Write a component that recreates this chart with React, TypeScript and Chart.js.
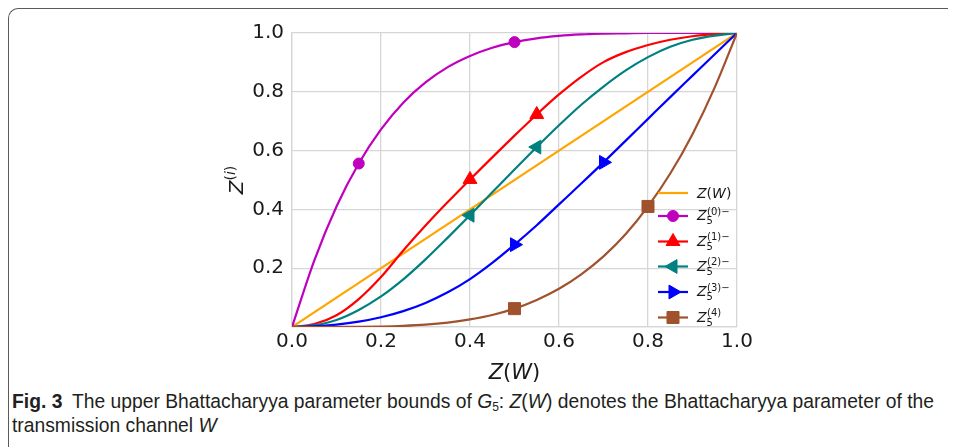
import React, { useEffect, useRef } from 'react';
import { Chart, registerables } from 'chart.js';

Chart.register(...registerables);

// ---- data ----
const zGrid = [0, 0.05, 0.1, 0.15, 0.2, 0.25, 0.3, 0.35, 0.4, 0.45, 0.5, 0.55, 0.6, 0.65, 0.7, 0.75, 0.8, 0.85, 0.9, 0.95, 1];
const diagX = [0, 1];
const diagY = [0, 1];
const z0Values = [0, 0.226, 0.41, 0.556, 0.672, 0.763, 0.832, 0.884, 0.922, 0.95, 0.969, 0.982, 0.99, 0.995, 0.998, 0.999, 1, 1, 1, 1, 1];
const z1Values = [0, 0.01, 0.04, 0.095, 0.17, 0.26, 0.345, 0.425, 0.502, 0.577, 0.651, 0.723, 0.791, 0.851, 0.901, 0.935, 0.959, 0.977, 0.989, 0.996, 1];
const z2Values = [0, 0.006, 0.024, 0.058, 0.104, 0.162, 0.23, 0.304, 0.38, 0.458, 0.536, 0.612, 0.686, 0.756, 0.818, 0.873, 0.918, 0.953, 0.977, 0.991, 1];
const z3Values = [0, 0.002, 0.008, 0.018, 0.033, 0.054, 0.082, 0.118, 0.163, 0.218, 0.28, 0.346, 0.417, 0.488, 0.56, 0.634, 0.708, 0.782, 0.855, 0.928, 1];
const z4Values = [0, 0, 0.0001, 0.0005, 0.0016, 0.004, 0.008, 0.015, 0.026, 0.041, 0.0625, 0.092, 0.13, 0.179, 0.24, 0.316, 0.41, 0.522, 0.656, 0.815, 1];
const z0Markers = [0.15, 0.5];
const z1Markers = [0.4, 0.55];
const z2Markers = [0.4, 0.55];
const z3Markers = [0.5, 0.7];
const z4Markers = [0.5, 0.8];
const xTickLabels = ['0.0', '0.2', '0.4', '0.6', '0.8', '1.0'];
const yTickLabels = ['', '0.2', '0.4', '0.6', '0.8', '1.0'];
const legendSup = ['(0)\u2212', '(1)\u2212', '(2)\u2212', '(3)\u2212', '(4)'];

const COLORS = {
  orange: '#FFA500',
  purple: '#BF00BF',
  red: '#FF0000',
  teal: '#008080',
  blue: '#0000FF',
  brown: '#A0522D',
};

const FONT = '"DejaVu Sans", sans-serif';
const GRID = '#d6d6d6';

type MarkerSpec = { style: string; r: number; rot: number };
const MK: MarkerSpec[] = [
  { style: 'circle', r: 5.5, rot: 0 },
  { style: 'triangle', r: 8, rot: 0 },
  { style: 'triangle', r: 8, rot: -90 },
  { style: 'triangle', r: 8, rot: 90 },
  { style: 'rect', r: 8.5, rot: 0 },
];

function pts(xs: number[], ys: number[]) {
  return xs.map((x, i) => ({ x, y: ys[i] }));
}

function drawMarker(ctx: CanvasRenderingContext2D, m: MarkerSpec, x: number, y: number, color: string) {
  ctx.save();
  ctx.fillStyle = color;
  ctx.strokeStyle = color;
  ctx.lineWidth = 1;
  ctx.beginPath();
  if (m.style === 'circle') {
    ctx.arc(x, y, m.r, 0, Math.PI * 2);
  } else if (m.style === 'triangle') {
    let rad = (m.rot * Math.PI) / 180;
    for (let k = 0; k < 3; k++) {
      const px = x + Math.sin(rad) * m.r;
      const py = y - Math.cos(rad) * m.r;
      if (k === 0) ctx.moveTo(px, py);
      else ctx.lineTo(px, py);
      rad += (2 * Math.PI) / 3;
    }
    ctx.closePath();
  } else {
    const s = Math.SQRT1_2 * m.r;
    ctx.rect(x - s, y - s, 2 * s, 2 * s);
  }
  ctx.fill();
  ctx.stroke();
  ctx.restore();
}

type Seg = { t: string; f: string; dy?: number };
function segWidth(ctx: CanvasRenderingContext2D, segs: Seg[]) {
  let w = 0;
  for (const s of segs) {
    ctx.font = s.f;
    w += ctx.measureText(s.t).width;
  }
  return w;
}
function drawSegs(ctx: CanvasRenderingContext2D, x: number, y: number, segs: Seg[]) {
  let cx = x;
  for (const s of segs) {
    ctx.font = s.f;
    ctx.fillText(s.t, cx, y + (s.dy || 0));
    cx += ctx.measureText(s.t).width;
  }
  return cx;
}

const overlayPlugin = {
  id: 'overlayText',
  afterDraw(chart: any) {
    const ctx: CanvasRenderingContext2D = chart.ctx;
    const area = chart.chartArea;
    ctx.save();
    ctx.textBaseline = 'alphabetic';
    ctx.textAlign = 'left';
    ctx.fillStyle = '#1a1a1a';

    // x-axis title: Z(W)
    const xs: Seg[] = [
      { t: 'Z', f: `italic 21px ${FONT}` },
      { t: '(', f: `21px ${FONT}` },
      { t: 'W', f: `italic 21px ${FONT}` },
      { t: ')', f: `21px ${FONT}` },
    ];
    const xw = segWidth(ctx, xs);
    drawSegs(ctx, (area.left + area.right) / 2 - xw / 2, area.bottom + 52, xs);

    // y-axis title: Z^(i)
    const ys: Seg[] = [
      { t: 'Z', f: `italic 20px ${FONT}` },
      { t: '(', f: `14px ${FONT}`, dy: -8.5 },
      { t: 'i', f: `italic 14px ${FONT}`, dy: -8.5 },
      { t: ')', f: `14px ${FONT}`, dy: -8.5 },
    ];
    const yw = segWidth(ctx, ys);
    ctx.save();
    ctx.translate(area.left - 49, (area.top + area.bottom) / 2 + yw / 2);
    ctx.rotate(-Math.PI / 2);
    drawSegs(ctx, 0, 0, ys);
    ctx.restore();

    // legend
    const lx0 = area.right - 79;
    const lx1 = lx0 + 30;
    const tx = lx1 + 9;
    const rowsY = [area.bottom - 134, area.bottom - 111, area.bottom - 85.5, area.bottom - 60.5, area.bottom - 35, area.bottom - 9.5];
    const colors = [COLORS.orange, COLORS.purple, COLORS.red, COLORS.teal, COLORS.blue, COLORS.brown];
    for (let i = 0; i < 6; i++) {
      const y = rowsY[i];
      ctx.save();
      ctx.strokeStyle = colors[i];
      ctx.lineWidth = 2.2;
      ctx.beginPath();
      ctx.moveTo(lx0, y);
      ctx.lineTo(lx1, y);
      ctx.stroke();
      ctx.restore();
      if (i > 0) drawMarker(ctx, MK[i - 1], (lx0 + lx1) / 2, y, colors[i]);
      ctx.fillStyle = '#1a1a1a';
      if (i === 0) {
        drawSegs(ctx, tx, y + 5, [
          { t: 'Z', f: `italic 14px ${FONT}` },
          { t: '(', f: `14px ${FONT}` },
          { t: 'W', f: `italic 14px ${FONT}` },
          { t: ')', f: `14px ${FONT}` },
        ]);
      } else {
        const ax = drawSegs(ctx, tx, y + 4, [{ t: 'Z', f: `italic 14px ${FONT}` }]);
        drawSegs(ctx, ax, y + 8, [{ t: '5', f: `10px ${FONT}` }]);
        drawSegs(ctx, ax + 0.5, y - 1.5, [{ t: legendSup[i - 1], f: `10px ${FONT}` }]);
      }
    }
    ctx.restore();
  },
};

function markerRadius(markers: number[], r: number) {
  return (c: any) => (c.raw && markers.some((m) => Math.abs(m - c.raw.x) < 1e-9) ? r : 0);
}

export default function App() {
  const ref = useRef<HTMLCanvasElement | null>(null);

  useEffect(() => {
    if (!ref.current) return;
    const series = [
      { vals: z0Values, markers: z0Markers, color: COLORS.purple, mk: MK[0] },
      { vals: z1Values, markers: z1Markers, color: COLORS.red, mk: MK[1] },
      { vals: z2Values, markers: z2Markers, color: COLORS.teal, mk: MK[2] },
      { vals: z3Values, markers: z3Markers, color: COLORS.blue, mk: MK[3] },
      { vals: z4Values, markers: z4Markers, color: COLORS.brown, mk: MK[4] },
    ];
    const datasets: any[] = [
      {
        label: 'Z(W)',
        data: pts(diagX, diagY),
        borderColor: COLORS.orange,
        backgroundColor: COLORS.orange,
        borderWidth: 2.2,
        pointRadius: 0,
        order: 6,
      },
      ...series.map((s, i) => ({
        label: 'Z5(' + i + ')',
        data: pts(zGrid, s.vals),
        borderColor: s.color,
        backgroundColor: s.color,
        borderWidth: 2.2,
        cubicInterpolationMode: 'monotone',
        pointStyle: s.mk.style,
        pointRotation: s.mk.rot,
        pointRadius: markerRadius(s.markers, s.mk.r),
        pointBorderWidth: 1,
        pointBorderColor: s.color,
        pointBackgroundColor: s.color,
        order: 5 - i,
      })),
    ];

    const chart = new Chart(ref.current, {
      type: 'line',
      data: { datasets },
      plugins: [overlayPlugin],
      options: {
        animation: false,
        responsive: false,
        devicePixelRatio: 1,
        events: [],
        layout: { padding: { left: 0, right: 23, top: 13, bottom: 23 } },
        plugins: { legend: { display: false }, tooltip: { enabled: false } },
        scales: {
          x: {
            type: 'linear',
            min: 0,
            max: 1,
            afterFit: (s: any) => {
              s.height = 40;
              s.paddingLeft = 0;
              s.paddingRight = 0;
            },
            ticks: {
              stepSize: 0.2,
              padding: 3,
              color: '#1a1a1a',
              font: { family: FONT, size: 20 },
              maxRotation: 0,
              callback: (_v: any, i: number) => xTickLabels[i],
            },
            grid: { color: GRID, lineWidth: 1.3, drawTicks: false },
            border: { color: GRID, width: 1.3 },
          },
          y: {
            type: 'linear',
            min: 0,
            max: 1,
            afterFit: (s: any) => {
              s.width = 92;
              s.paddingTop = 0;
              s.paddingBottom = 0;
            },
            ticks: {
              stepSize: 0.2,
              padding: 8,
              color: '#1a1a1a',
              font: { family: FONT, size: 20 },
              callback: (_v: any, i: number) => yTickLabels[i],
            },
            grid: { color: GRID, lineWidth: 1.3, drawTicks: false },
            border: { color: GRID, width: 1.3 },
          },
        },
      },
    } as any);
    return () => chart.destroy();
  }, []);

  return (
    <div
      style={{
        position: 'relative',
        width: 948,
        height: 439,
        boxSizing: 'border-box',
        borderTop: '1.5px solid #5a5a5a',
        borderLeft: '1.5px solid #5a5a5a',
        borderTopLeftRadius: 10,
        overflow: 'hidden',
      }}
    >
      <canvas
        ref={ref}
        width={560}
        height={370}
        style={{ position: 'absolute', left: 191, top: 11, width: 560, height: 370 }}
      />
      <div
        style={{
          position: 'absolute',
          left: 3,
          top: 381,
          whiteSpace: 'nowrap',
          fontFamily: '"Liberation Sans", Arial, sans-serif',
          fontSize: 19.3,
          lineHeight: '24px',
          color: '#231f20',
        }}
      >
        <b>Fig. 3</b>
        {'\u2002The upper Bhattacharyya parameter bounds of '}
        <i>G</i>
        <sub style={{ fontSize: 12, verticalAlign: -3, lineHeight: 0 }}>5</sub>
        {': '}
        <i>Z</i>(<i>W</i>){' denotes the Bhattacharyya parameter of the'}
        <br />
        {'transmission channel '}
        <i>W</i>
      </div>
    </div>
  );
}
